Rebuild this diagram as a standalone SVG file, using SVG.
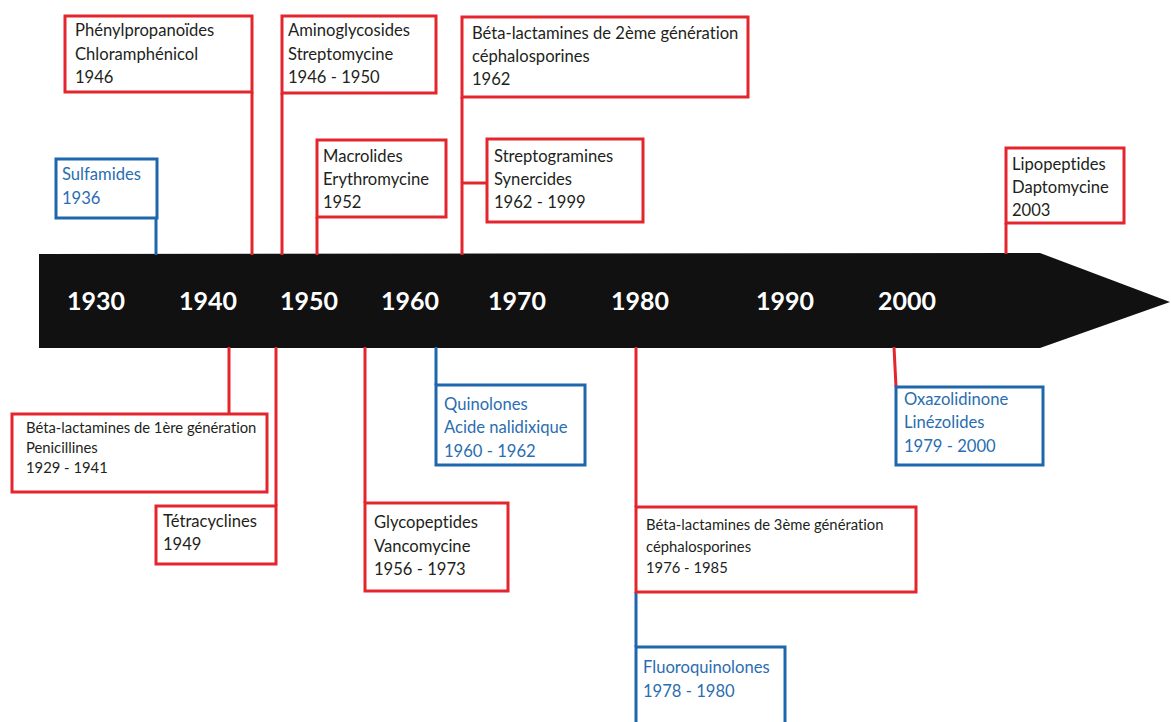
<svg xmlns="http://www.w3.org/2000/svg" width="1171" height="722" viewBox="0 0 1171 722">
<style>
.r{fill:#fff;stroke:#e3262d;stroke-width:3}
.b{fill:#fff;stroke:#1f67ad;stroke-width:3}
.lr{stroke:#e3262d;stroke-width:3;fill:none}
.lb{stroke:#1f67ad;stroke-width:3;fill:none}
text{font-family:Lato,"Open Sans","Liberation Sans",sans-serif;font-size:16.6px;font-variant-ligatures:none}
.tk{fill:#231f20}
.tb{fill:#2a6db0}
.sm{font-size:14.8px}
.yr{font-weight:bold;font-size:25px;fill:#fff;text-anchor:middle}
</style>
<rect width="1171" height="722" fill="#fff"/>
<g id="timeline">
<polygon points="39,254 1040,253 1170,302 1040,348 39,348" fill="#111"/>
<text class="yr" x="96" y="310">1930</text>
<text class="yr" x="208" y="310">1940</text>
<text class="yr" x="309" y="310">1950</text>
<text class="yr" x="410" y="310">1960</text>
<text class="yr" x="517" y="310">1970</text>
<text class="yr" x="640" y="310">1980</text>
<text class="yr" x="785" y="310">1990</text>
<text class="yr" x="907" y="310">2000</text>
</g>
<g id="connectors">
<line class="lb" x1="156" y1="218" x2="156" y2="255"/>
<line class="lr" x1="252" y1="92" x2="252" y2="255"/>
<line class="lr" x1="282" y1="93" x2="282" y2="255"/>
<line class="lr" x1="317" y1="217" x2="317" y2="255"/>
<line class="lr" x1="462" y1="97" x2="462" y2="255"/>
<line class="lr" x1="462" y1="183" x2="487" y2="183"/>
<line class="lr" x1="1006" y1="223" x2="1006" y2="254"/>
<line class="lr" x1="229" y1="347" x2="229" y2="414"/>
<line class="lr" x1="276" y1="347" x2="276" y2="506"/>
<line class="lr" x1="365" y1="347" x2="365" y2="503"/>
<line class="lb" x1="436" y1="347" x2="436" y2="385"/>
<line class="lr" x1="636" y1="347" x2="636" y2="507"/>
<line class="lb" x1="636" y1="592" x2="636" y2="647"/>
<line class="lr" x1="894" y1="347" x2="896" y2="387"/>
</g>
<g id="phenylpropanoides">
<rect class="r" x="65" y="16" width="187" height="76"/>
<text class="tk" x="75" y="36">Phénylpropanoïdes</text>
<text class="tk" x="75" y="60">Chloramphénicol</text>
<text class="tk" x="75" y="83">1946</text>
</g>
<g id="aminoglycosides">
<rect class="r" x="282" y="16" width="154" height="77"/>
<text class="tk" x="288" y="36">Aminoglycosides</text>
<text class="tk" x="288" y="60">Streptomycine</text>
<text class="tk" x="288" y="83">1946 - 1950</text>
</g>
<g id="sulfamides">
<rect class="b" x="56" y="159" width="101" height="59"/>
<text class="tb" x="62" y="180">Sulfamides</text>
<text class="tb" x="62" y="204">1936</text>
</g>
<g id="macrolides">
<rect class="r" x="317" y="140" width="129" height="77"/>
<text class="tk" x="323" y="162">Macrolides</text>
<text class="tk" x="323" y="185">Erythromycine</text>
<text class="tk" x="323" y="208">1952</text>
</g>
<g id="betalactamines2">
<rect class="r" x="462" y="17" width="286" height="80"/>
<text class="tk" x="472" y="39">Béta-lactamines de 2ème génération</text>
<text class="tk" x="472" y="62">céphalosporines</text>
<text class="tk" x="472" y="85">1962</text>
</g>
<g id="streptogramines">
<rect class="r" x="487" y="139" width="156" height="83"/>
<text class="tk" x="494" y="162">Streptogramines</text>
<text class="tk" x="494" y="185">Synercides</text>
<text class="tk" x="494" y="208">1962 - 1999</text>
</g>
<g id="lipopeptides">
<rect class="r" x="1006" y="148" width="118" height="75"/>
<text class="tk" x="1012" y="170">Lipopeptides</text>
<text class="tk" x="1012" y="193">Daptomycine</text>
<text class="tk" x="1012" y="216">2003</text>
</g>
<g id="betalactamines1">
<rect class="r" x="12" y="414" width="255" height="78"/>
<text class="tk sm" x="26" y="433">Béta-lactamines de 1ère génération</text>
<text class="tk sm" x="26" y="453">Penicillines</text>
<text class="tk sm" x="26" y="473">1929 - 1941</text>
</g>
<g id="tetracyclines">
<rect class="r" x="156" y="506" width="120" height="58"/>
<text class="tk" x="163" y="527">Tétracyclines</text>
<text class="tk" x="163" y="550">1949</text>
</g>
<g id="glycopeptides">
<rect class="r" x="365" y="503" width="143" height="88"/>
<text class="tk" x="374" y="528">Glycopeptides</text>
<text class="tk" x="374" y="552">Vancomycine</text>
<text class="tk" x="374" y="575">1956 - 1973</text>
</g>
<g id="quinolones">
<rect class="b" x="436" y="385" width="149" height="80"/>
<text class="tb" x="444" y="410">Quinolones</text>
<text class="tb" x="444" y="433">Acide nalidixique</text>
<text class="tb" x="444" y="457">1960 - 1962</text>
</g>
<g id="betalactamines3">
<rect class="r" x="636" y="507" width="280" height="85"/>
<text class="tk sm" x="646" y="530">Béta-lactamines de 3ème génération</text>
<text class="tk sm" x="646" y="552">céphalosporines</text>
<text class="tk sm" x="646" y="573">1976 - 1985</text>
</g>
<g id="oxazolidinone">
<rect class="b" x="896" y="387" width="147" height="78"/>
<text class="tb" x="904" y="405">Oxazolidinone</text>
<text class="tb" x="904" y="428">Linézolides</text>
<text class="tb" x="904" y="452">1979 - 2000</text>
</g>
<g id="fluoroquinolones">
<rect class="b" x="636" y="647" width="149" height="90"/>
<text class="tb" x="643" y="673">Fluoroquinolones</text>
<text class="tb" x="643" y="697">1978 - 1980</text>
</g>
</svg>
